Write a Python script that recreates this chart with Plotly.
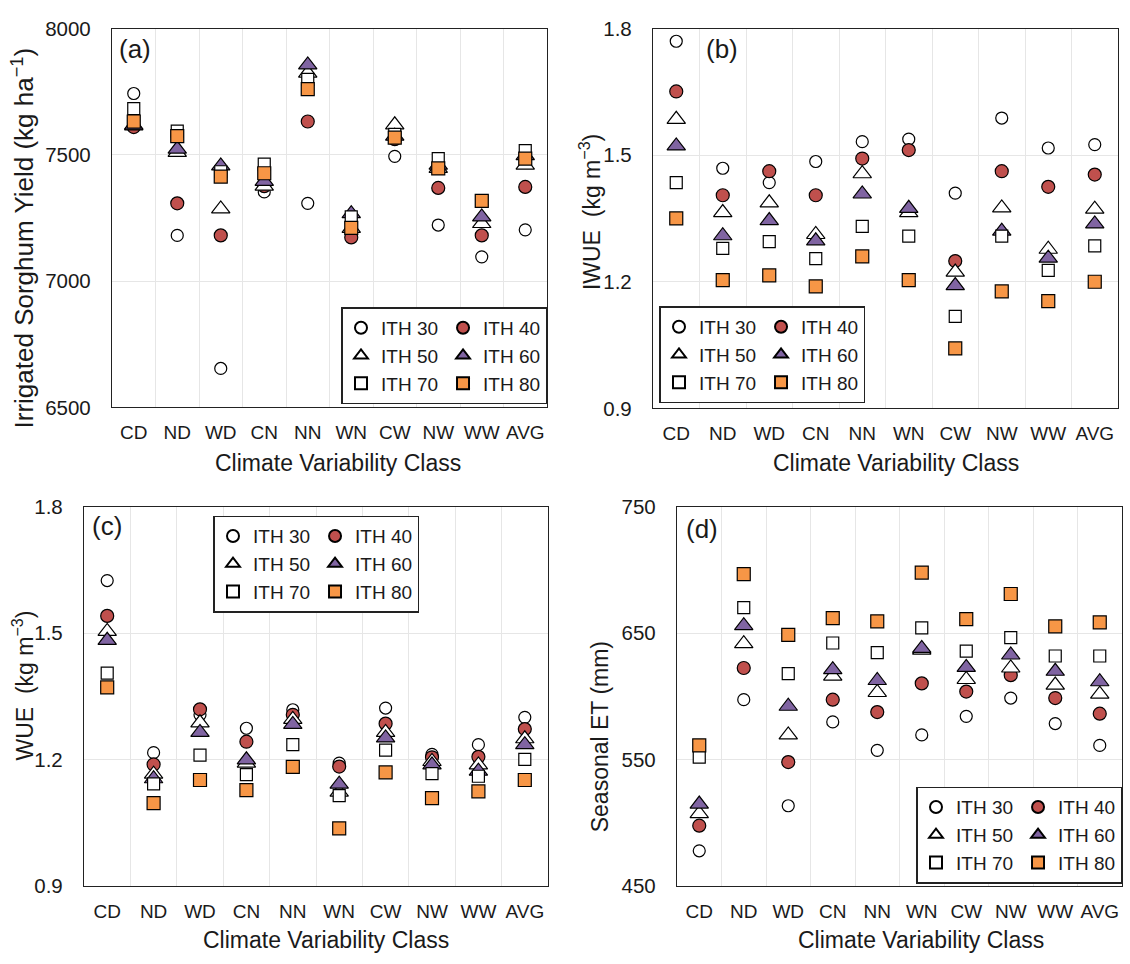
import plotly.graph_objects as go

# ---------------- data ----------------
categories = ["CD", "ND", "WD", "CN", "NN", "WN", "CW", "NW", "WW", "AVG"]
series_names = ["ITH 30", "ITH 40", "ITH 50", "ITH 60", "ITH 70", "ITH 80"]

# (a) Irrigated sorghum yield (kg ha-1)
yield_ith30 = [7743, 7181, 6654, 7353, 7308, 6760, 7494, 7222, 7096, 7203]
yield_ith40 = [7610, 7308, 7181, 7376, 7632, 7173, 7562, 7369, 7181, 7373]
yield_ith50 = [7615, 7510, 7286, 7376, 7824, 7209, 7619, 7446, 7228, 7459]
yield_ith60 = [7618, 7523, 7456, 7395, 7856, 7267, 7574, 7459, 7254, 7497]
yield_ith70 = [7683, 7594, 7433, 7463, 7799, 7254, 7581, 7485, 7318, 7517]
yield_ith80 = [7632, 7574, 7414, 7427, 7760, 7211, 7568, 7446, 7318, 7485]

# (b) IWUE (kg m-3)
iwue_ith30 = [1.770, 1.469, 1.435, 1.485, 1.532, 1.538, 1.410, 1.588, 1.517, 1.525]
iwue_ith40 = [1.651, 1.405, 1.462, 1.405, 1.492, 1.512, 1.249, 1.462, 1.425, 1.454]
iwue_ith50 = [1.585, 1.364, 1.387, 1.312, 1.456, 1.364, 1.223, 1.375, 1.277, 1.372]
iwue_ith60 = [1.522, 1.309, 1.345, 1.297, 1.408, 1.374, 1.191, 1.320, 1.256, 1.337]
iwue_ith70 = [1.435, 1.279, 1.295, 1.255, 1.331, 1.308, 1.118, 1.308, 1.227, 1.285]
iwue_ith80 = [1.350, 1.204, 1.215, 1.189, 1.260, 1.204, 1.042, 1.177, 1.154, 1.200]

# (c) WUE (kg m-3)
wue_ith30 = [1.625, 1.216, 1.306, 1.274, 1.318, 1.191, 1.322, 1.212, 1.235, 1.300]
wue_ith40 = [1.541, 1.188, 1.319, 1.242, 1.306, 1.183, 1.285, 1.205, 1.206, 1.272]
wue_ith50 = [1.504, 1.165, 1.287, 1.191, 1.295, 1.122, 1.264, 1.195, 1.187, 1.249]
wue_ith60 = [1.483, 1.154, 1.264, 1.199, 1.283, 1.141, 1.251, 1.187, 1.172, 1.235]
wue_ith70 = [1.405, 1.142, 1.210, 1.164, 1.235, 1.114, 1.222, 1.166, 1.160, 1.200]
wue_ith80 = [1.371, 1.096, 1.151, 1.127, 1.182, 1.036, 1.169, 1.108, 1.124, 1.151]

# (d) Seasonal ET (mm)
et_ith30 = [477.6, 597.3, 513.3, 579.7, 557.2, 569.4, 584.1, 598.6, 578.4, 561.1]
et_ith40 = [497.5, 622.4, 547.9, 597.3, 587.5, 610.2, 603.7, 616.7, 598.6, 586.2]
et_ith50 = [507.0, 641.7, 569.4, 615.9, 603.0, 636.6, 613.3, 622.4, 608.9, 601.7]
et_ith60 = [514.6, 655.9, 592.1, 621.1, 612.5, 637.9, 622.9, 632.7, 619.8, 611.5]
et_ith70 = [551.8, 670.2, 618.0, 642.2, 634.5, 654.1, 635.8, 646.4, 631.9, 631.9]
et_ith80 = [561.1, 696.8, 648.7, 661.9, 659.3, 698.0, 661.1, 681.0, 655.4, 658.5]

y_ticks_a = [6500, 7000, 7500, 8000]
y_ticks_b = [0.9, 1.2, 1.5, 1.8]
y_ticks_c = [0.9, 1.2, 1.5, 1.8]
y_ticks_d = [450, 550, 650, 750]

# ---------------- styles ----------------
W, H = 1130, 964
FONT = "Liberation Sans, Arial, sans-serif"
RED = "#C0504D"
PURPLE = "#8064A2"
ORANGE = "#F79646"
GRID = "#E6E6E6"

styles = [
    dict(symbol="circle", color="white", size=12),
    dict(symbol="circle", color=RED, size=13),
    dict(symbol="triangle-up", color="white", size=16),
    dict(symbol="triangle-up", color=PURPLE, size=16),
    dict(symbol="square", color="white", size=12),
    dict(symbol="square", color=ORANGE, size=13),
]
legend_groups = ["g1", "g2", "g1", "g2", "g1", "g2"]


def px_x(p):
    return p / W


def px_y(p):
    return 1 - p / H


panels = [
    dict(name="a", data=[yield_ith30, yield_ith40, yield_ith50, yield_ith60, yield_ith70, yield_ith80],
         xd=(112, 547), yd=(17, 405), yr=(6500, 8000), yt=y_ticks_a, fmt=None,
         ytitle="Irrigated Sorghum Yield (kg ha<sup>−1</sup>)", ytitle_pos=(23, 232), ytitle_size=26,
         xtitle_pos=(338, 462), label_pos=(117, 38),
         legend=dict(x=547, y=402, xanchor="right", yanchor="bottom")),
    dict(name="b", data=[iwue_ith30, iwue_ith40, iwue_ith50, iwue_ith60, iwue_ith70, iwue_ith80],
         xd=(653, 1118), yd=(17, 406), yr=(0.9, 1.8), yt=y_ticks_b, fmt=".1f",
         ytitle="IWUE  (kg m<sup>−3</sup>)", ytitle_pos=(590, 205), ytitle_size=23,
         xtitle_pos=(896, 462), label_pos=(704, 38),
         legend=dict(x=659, y=401, xanchor="left", yanchor="bottom")),
    dict(name="c", data=[wue_ith30, wue_ith40, wue_ith50, wue_ith60, wue_ith70, wue_ith80],
         xd=(84, 548), yd=(507, 895), yr=(0.9, 1.8), yt=y_ticks_c, fmt=".1f",
         ytitle="WUE  (kg m<sup>−3</sup>)", ytitle_pos=(23, 690), ytitle_size=23,
         xtitle_pos=(326, 951), label_pos=(90, 527),
         legend=dict(x=213, y=516, xanchor="left", yanchor="top")),
    dict(name="d", data=[et_ith30, et_ith40, et_ith50, et_ith60, et_ith70, et_ith80],
         xd=(677, 1122), yd=(507, 895), yr=(450, 750), yt=y_ticks_d, fmt=None,
         ytitle="Seasonal ET (mm)", ytitle_pos=(600, 743), ytitle_size=23,
         xtitle_pos=(921, 951), label_pos=(684, 530),
         legend=dict(x=1122, y=893, xanchor="right", yanchor="bottom")),
]

fig = go.Figure()
annotations = []
layout = dict(
    width=W, height=H,
    margin=dict(l=0, r=0, t=0, b=0),
    paper_bgcolor="white", plot_bgcolor="white",
    font=dict(family=FONT, size=19, color="#1a1a1a"),
)

for i, p in enumerate(panels):
    k = "" if i == 0 else str(i + 1)
    xa, ya = "x" + k, "y" + k
    leg = "legend" + k
    for j, (name, vals) in enumerate(zip(series_names, p["data"])):
        st = styles[j]
        fig.add_trace(go.Scatter(
            x=categories, y=vals, mode="markers", name=name,
            xaxis=xa, yaxis=ya, legend=leg,
            legendgroup=p["name"] + legend_groups[j],
            marker=dict(symbol=st["symbol"], color=st["color"], size=st["size"],
                        line=dict(color="black", width=1.2)),
            cliponaxis=False,
        ))
    layout["xaxis" + k] = dict(
        domain=[px_x(p["xd"][0]), px_x(p["xd"][1])],
        anchor=ya, type="category", range=[-0.5, len(categories) - 0.5],
        tickson="boundaries", showgrid=True, gridcolor=GRID, gridwidth=1,
        showline=True, linecolor="#222222", linewidth=1.3, mirror=True,
        ticks="", tickangle=0, tickfont=dict(size=19, color="#1a1a1a"), ticklabelstandoff=8,
        zeroline=False, fixedrange=True,
    )
    ykw = dict(
        domain=[px_y(p["yd"][1]), px_y(p["yd"][0])],
        anchor=xa, range=list(p["yr"]), tickmode="array", tickvals=p["yt"],
        showgrid=True, gridcolor=GRID, gridwidth=1,
        showline=True, linecolor="#222222", linewidth=1.3, mirror=True,
        ticks="", tickfont=dict(size=20.5, color="#1a1a1a"), ticklabelstandoff=16,
        zeroline=False, fixedrange=True,
    )
    if p["fmt"]:
        ykw["tickformat"] = p["fmt"]
    layout["yaxis" + k] = ykw
    lg = p["legend"]
    layout[leg] = dict(
        x=px_x(lg["x"]), y=px_y(lg["y"]), xanchor=lg["xanchor"], yanchor=lg["yanchor"],
        xref="paper", yref="paper",
        orientation="h", traceorder="grouped",
        bgcolor="white", bordercolor="#222222", borderwidth=1.5,
        font=dict(size=19, family=FONT, color="#1a1a1a"),
        itemsizing="constant",
    )
    # titles and panel labels
    annotations.append(dict(
        x=px_x(p["ytitle_pos"][0]), y=px_y(p["ytitle_pos"][1]), xref="paper", yref="paper",
        text=p["ytitle"], textangle=-90, showarrow=False, xanchor="center", yanchor="middle",
        font=dict(size=p["ytitle_size"], family=FONT, color="#1a1a1a"),
    ))
    annotations.append(dict(
        x=px_x(p["xtitle_pos"][0]), y=px_y(p["xtitle_pos"][1]), xref="paper", yref="paper",
        text="Climate Variability Class", showarrow=False, xanchor="center", yanchor="middle",
        font=dict(size=23, family=FONT, color="#1a1a1a"),
    ))
    annotations.append(dict(
        x=px_x(p["label_pos"][0]), y=px_y(p["label_pos"][1]), xref="paper", yref="paper",
        text="(" + p["name"] + ")", showarrow=False, xanchor="left", yanchor="middle",
        font=dict(size=26, family=FONT, color="#1a1a1a"),
    ))

layout["annotations"] = annotations
fig.update_layout(**layout)
fig.write_html("out.html")
